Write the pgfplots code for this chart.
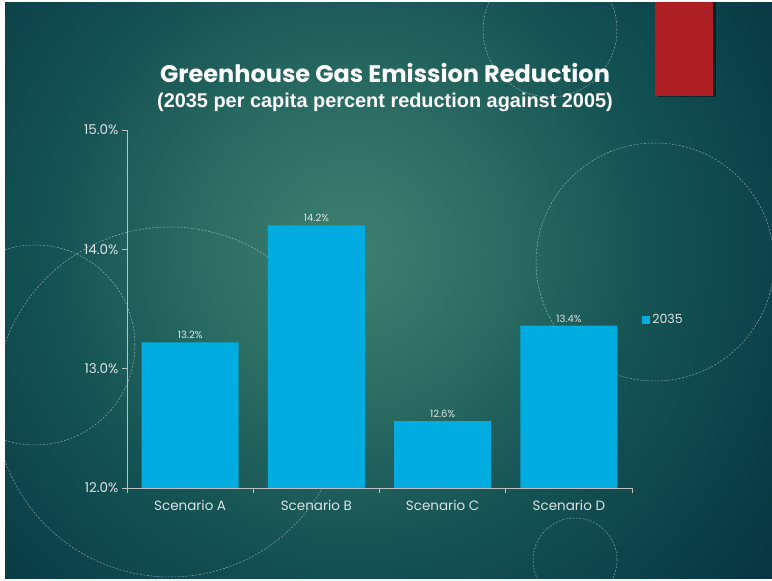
\documentclass[border=0pt]{standalone}
\usepackage{fontspec}
\setmainfont{Poppins}
\newfontfamily\subfont{Liberation Sans}
\usepackage{pgfplots}
\pgfplotsset{compat=1.18}
\definecolor{barc}{HTML}{00ACE0}
\definecolor{bgA}{HTML}{3E806E}
\definecolor{bgB}{HTML}{2C6E64}
\definecolor{bgC}{HTML}{145253}
\definecolor{bgE}{HTML}{0A3C46}
\definecolor{bgD}{HTML}{022330}
\definecolor{redr}{HTML}{AD1F23}
\definecolor{txt}{HTML}{DDE2E2}
\pgfdeclareradialshading{bgshade}{\pgfpoint{0bp}{0bp}}{color(0bp)=(bgA); color(5bp)=(bgB); color(11bp)=(bgC); color(17bp)=(bgE); color(25bp)=(bgD); color(50bp)=(bgD)}
\begin{document}
\begin{tikzpicture}
\fill[white] (0pt,0pt) rectangle (772pt,581pt);
\begin{scope}
\clip (5pt,2pt) rectangle (772pt,578pt);
\shade[shading=bgshade] (350pt,330pt) circle (690pt);
\begin{scope}[white, opacity=0.5, line width=0.5pt, dash pattern=on 2pt off 1.5pt]
\draw (550pt,551pt) circle (67pt);
\draw (655pt,319pt) circle (119pt);
\draw (35pt,236pt) circle (100pt);
\draw (170pt,179pt) circle (175pt);
\draw (575pt,21pt) circle (42pt);
\end{scope}
\fill[black, opacity=0.45] (658pt,484pt) rectangle (716pt,581pt);
\fill[redr] (655pt,485pt) rectangle (713pt,581pt);
\end{scope}
\node[text=white, font=\bfseries\fontsize{24}{27}\selectfont] at (385pt,508pt) {Greenhouse Gas Emission Reduction};
\node[text=white, font=\subfont\bfseries\fontsize{19.9}{22}\selectfont] at (385pt,479pt) {(2035 per capita percent reduction against 2005)};
\begin{axis}[
  at={(127pt,93pt)}, anchor=south west,
  scale only axis, width=505pt, height=358pt,
  xmin=-0.5, xmax=3.5, ymin=12, ymax=15,
  axis x line*=bottom, axis y line*=left,
  axis line style={draw=txt!85!black, line width=0.9pt},
  xtick={0,1,2,3},
  xticklabels={Scenario A,Scenario B,Scenario C,Scenario D},
  minor xtick={-0.5,0.5,1.5,2.5,3.5},
  ytick={12,13,14,15},
  yticklabel={\pgfmathprintnumber[fixed,precision=1,fixed zerofill]{\tick}\%},
  /pgf/number format/assume math mode=true,
  tick align=outside,
  major tick length=5pt, minor tick length=5pt,
  x tick style={draw=none},
  minor x tick style={draw=txt!85!black, line width=0.9pt},
  y tick style={draw=txt!85!black, line width=0.9pt},
  tick label style={text=txt, font=\fontsize{13.5}{15}\selectfont},
  xticklabel style={yshift=-4pt},
  ybar, bar width=97pt,
  nodes near coords={\pgfmathprintnumber[fixed,precision=1,fixed zerofill]{\pgfplotspointmeta}\%},
  nodes near coords style={text=txt, font=\fontsize{10}{12}\selectfont},
  legend style={at={(1.02,0.469)}, anchor=west, draw=none, fill=none, text=txt, font=\fontsize{12.6}{14}\selectfont, inner sep=0pt},
  legend image code/.code={\fill[barc] (0pt,-4pt) rectangle (8pt,4pt);},
]
\addplot[fill=barc, draw=none] coordinates {(0,13.22) (1,14.20) (2,12.56) (3,13.36)};
\addlegendentry{2035}
\end{axis}
\end{tikzpicture}
\end{document}
